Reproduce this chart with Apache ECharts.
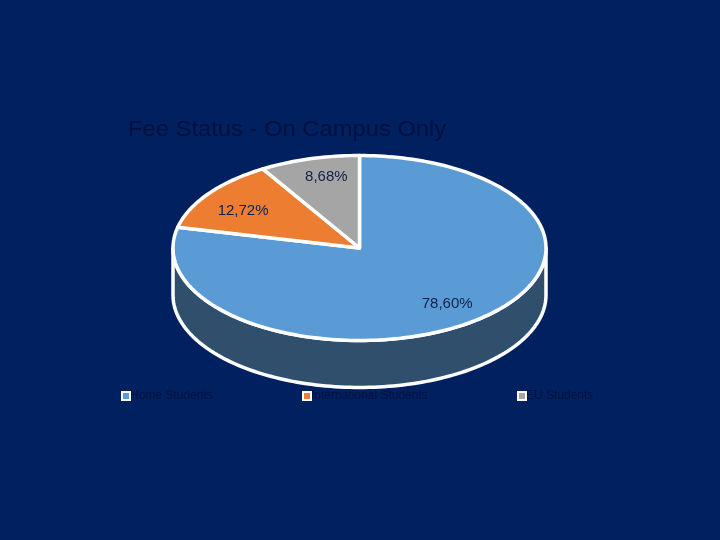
<!DOCTYPE html>
<html><head><meta charset="utf-8">
<style>html,body{margin:0;padding:0;background:#002060}#c{width:720px;height:540px}</style>
<script src="https://cdn.jsdelivr.net/npm/echarts@6/dist/echarts.min.js"></script>
</head><body><div id="c"></div>
<script>
const titleText = 'Fee Status - On Campus Only';
const categories = ['Home Students', 'International Students', 'EU Students'];
const shares = [78.60, 12.72, 8.68];
const colors = ['#5b9bd5', '#ed7d31', '#a5a5a5'];
const wallColors = ['#2f4f6d', '#77401a', '#535353'];
const labelReach = [[0.755, 0.765], [0.77, 0.68], [0.66, 0.80]];
const legendLeft = [119, 300, 515];

const P = {cx: 359.5, cy: 248, rx: 186.5, ry: 92.5, depth: 47};
const total = shares.reduce((a, b) => a + b, 0);
const rad = d => d * Math.PI / 180;
const pt = (deg, dy) => [P.cx + P.rx * Math.sin(rad(deg)), P.cy - P.ry * Math.cos(rad(deg)) + (dy || 0)];
function arc(a0, a1, dy) {
  const pts = [], n = Math.max(2, Math.ceil((a1 - a0) / 1.5));
  for (let i = 0; i <= n; i++) pts.push(pt(a0 + (a1 - a0) * i / n, dy));
  return pts;
}
const pctText = v => v.toFixed(2).replace('.', ',') + '%';

function makeRender(idx) {
  return function () {
    let start = 0;
    for (let i = 0; i < idx; i++) start += shares[i];
    const a0 = start / total * 360, a1 = (start + shares[idx]) / total * 360;
    const mid = (a0 + a1) / 2;
    const children = [];
    const w0 = Math.max(a0, 90), w1 = Math.min(a1, 270);
    if (w1 > w0) {
      children.push({type: 'polygon', shape: {points: arc(w0, w1, 0).concat(arc(w0, w1, P.depth).reverse())},
        style: {fill: wallColors[idx], stroke: '#fff', lineWidth: 3.5, lineJoin: 'round'}});
    }
    children.push({type: 'polygon', shape: {points: [[P.cx, P.cy]].concat(arc(a0, a1, 0))},
      style: {fill: colors[idx], stroke: '#fff', lineWidth: 3.5, lineJoin: 'round'}});
    const r = labelReach[idx];
    children.push({type: 'text', z2: 10, style: {
      x: P.cx + P.rx * r[0] * Math.sin(rad(mid)),
      y: P.cy - P.ry * r[1] * Math.cos(rad(mid)),
      text: pctText(shares[idx]), fill: '#10204a',
      font: '15px "Liberation Sans"', align: 'center', verticalAlign: 'middle'}});
    return {type: 'group', children};
  };
}

const chart = echarts.init(document.getElementById('c'), null, {renderer: 'canvas'});
chart.setOption({
  animation: false,
  backgroundColor: '#002060',
  graphic: [{type: 'text', left: 128, top: 119, scaleX: 1.08, originX: 0, z: 20,
    style: {text: titleText, fill: '#00103f', font: '22px "Liberation Sans"'}}],
  legend: categories.map((c, i) => ({
    data: [c], left: legendLeft[i], top: 388, orient: 'horizontal',
    itemWidth: 8, itemHeight: 8, padding: 2,
    icon: 'rect',
    itemStyle: {borderColor: '#fff', borderWidth: 2},
    textStyle: {color: '#00133f', fontFamily: 'Liberation Sans', fontSize: 12, padding: [0, 0, 0, -5]}
  })),
  series: categories.map((c, i) => ({
    type: 'custom', name: c, coordinateSystem: 'none', silent: true, clip: false,
    itemStyle: {color: colors[i]},
    data: [shares[i]],
    renderItem: makeRender(i)
  }))
});
</script></body></html>
